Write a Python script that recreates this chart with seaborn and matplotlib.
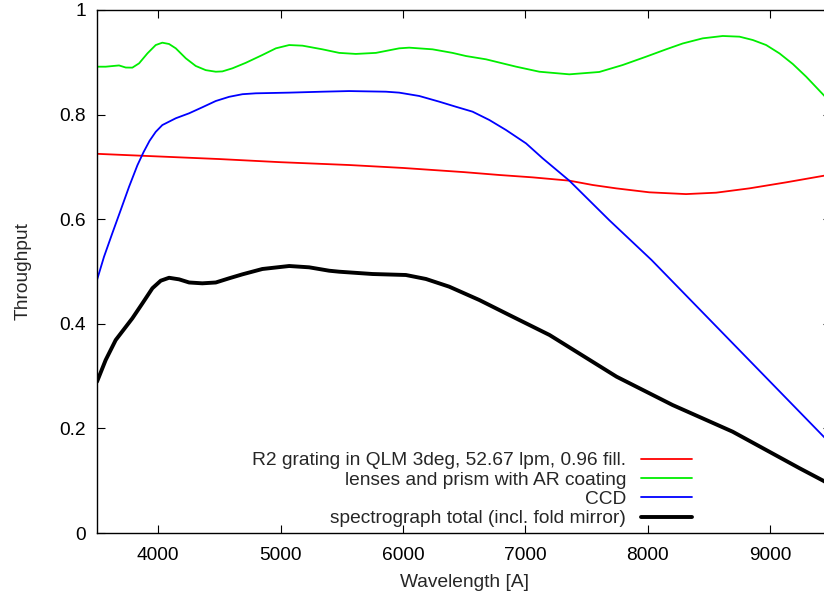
import matplotlib
matplotlib.use("Agg")
import matplotlib.pyplot as plt
import seaborn as sns
import pandas as pd

# --- data ---
grating_wl = [3500, 4000, 4500, 5000, 5561, 6000, 6500, 6790, 7061, 7361, 7552, 7743, 8015, 8315, 8561, 8834, 9134, 9439, 9500]
grating_T  = [0.725, 0.720, 0.715, 0.709, 0.7036, 0.698, 0.690, 0.6845, 0.680, 0.6737, 0.6654, 0.659, 0.6514, 0.648, 0.6507, 0.659, 0.6705, 0.683, 0.686]

optics_wl = [3500, 3571, 3680, 3735, 3789, 3844, 3912, 3980, 4034, 4089, 4144, 4226, 4307, 4389, 4471, 4525, 4607, 4716, 4852, 4962, 5071, 5180, 5343, 5480, 5616, 5780, 5970, 6052, 6243, 6406, 6516, 6680, 6925, 7116, 7361, 7606, 7797, 7988, 8152, 8288, 8451, 8615, 8752, 8861, 8970, 9079, 9188, 9297, 9439, 9500]
optics_T  = [0.8916, 0.8916, 0.894, 0.890, 0.8898, 0.898, 0.917, 0.933, 0.9375, 0.935, 0.9267, 0.9076, 0.893, 0.885, 0.882, 0.8826, 0.8885, 0.899, 0.914, 0.9267, 0.933, 0.9318, 0.9248, 0.918, 0.916, 0.918, 0.9267, 0.928, 0.9248, 0.918, 0.912, 0.9057, 0.8917, 0.882, 0.877, 0.8815, 0.8948, 0.9107, 0.9248, 0.936, 0.9458, 0.9503, 0.949, 0.9426, 0.933, 0.917, 0.8967, 0.8725, 0.8375, 0.822]

ccd_wl = [3500, 3557, 3625, 3694, 3762, 3830, 3880, 3930, 3980, 4034, 4144, 4253, 4361, 4471, 4580, 4689, 4798, 5071, 5343, 5561, 5862, 5970, 6134, 6298, 6434, 6570, 6707, 6843, 7007, 7143, 7361, 7688, 8033, 8483, 9441, 9500]
ccd_T  = [0.4837, 0.528, 0.573, 0.6176, 0.662, 0.703, 0.728, 0.750, 0.767, 0.780, 0.793, 0.8025, 0.814, 0.826, 0.834, 0.839, 0.8407, 0.842, 0.8438, 0.845, 0.8438, 0.842, 0.8356, 0.8247, 0.815, 0.8056, 0.7897, 0.7706, 0.745, 0.7164, 0.6737, 0.598, 0.522, 0.414, 0.184, 0.170]

total_wl = [3500, 3571, 3653, 3789, 3871, 3953, 4021, 4089, 4171, 4253, 4361, 4471, 4580, 4689, 4852, 5071, 5234, 5398, 5480, 5752, 6025, 6189, 6379, 6625, 6870, 7199, 7747, 8205, 8696, 9244, 9441, 9500]
total_T  = [0.2893, 0.3308, 0.369, 0.4105, 0.439, 0.468, 0.4824, 0.488, 0.485, 0.479, 0.4774, 0.479, 0.487, 0.4946, 0.5048, 0.5105, 0.508, 0.5015, 0.4996, 0.4952, 0.4933, 0.4857, 0.471, 0.4455, 0.4168, 0.3786, 0.2989, 0.2447, 0.1937, 0.1237, 0.0994, 0.091]

labels = ["R2 grating in QLM 3deg, 52.67 lpm, 0.96 fill.",
          "lenses and prism with AR coating",
          "CCD",
          "spectrograph total (incl. fold mirror)"]
colors = ["#ff0000", "#00ee00", "#0000ff", "#000000"]
widths = [1.3, 1.3, 1.3, 2.8]

x_ticks = [4000, 5000, 6000, 7000, 8000, 9000]
y_ticks = [0, 0.2, 0.4, 0.6, 0.8, 1]
y_ticklabels = ["0", "0.2", "0.4", "0.6", "0.8", "1"]

sns.set_style("ticks")
plt.rcParams['font.family'] = ['Liberation Sans', 'DejaVu Sans']

FS = 13.8
fig = plt.figure(figsize=(8.24, 5.94), dpi=100)
W, H = 824, 594
ax = fig.add_axes([97 / W, (H - 533) / H, (831 - 97) / W, (533 - 10) / H])

series = [(grating_wl, grating_T), (optics_wl, optics_T), (ccd_wl, ccd_T), (total_wl, total_T)]
for (wl, T), lab, c, lw in zip(series, labels, colors, widths):
    df = pd.DataFrame({"wl": wl, "T": T})
    sns.lineplot(data=df, x="wl", y="T", ax=ax, color=c, linewidth=lw, label=lab)

ax.set_xlim(3500, 9500)
ax.set_ylim(0, 1)
ax.set_xticks(x_ticks)
ax.set_xticklabels([str(t) for t in x_ticks])
ax.set_yticks(y_ticks)
ax.set_yticklabels(y_ticklabels)
ax.tick_params(axis="both", direction="in", length=6, width=0.8, top=True, right=True,
               labelsize=FS, colors="black")
ax.tick_params(axis="x", pad=10)
ax.tick_params(axis="y", pad=8)
for s in ax.spines.values():
    s.set_visible(True)
    s.set_linewidth(1.0)
    s.set_color("black")

ax.set_xlabel("Wavelength [A]", fontsize=FS, labelpad=7)
ax.set_ylabel("Throughput", fontsize=FS, labelpad=20)

leg = ax.legend(loc="lower right", bbox_to_anchor=((698 - 97) / 734, 0.0),
                frameon=False, markerfirst=False, fontsize=FS,
                handlelength=2.7, handletextpad=0.75, labelspacing=0.1,
                borderpad=0.3, borderaxespad=0)
for t in leg.get_texts():
    t.set_ha("right")

fig.savefig("out.png", dpi=100)
